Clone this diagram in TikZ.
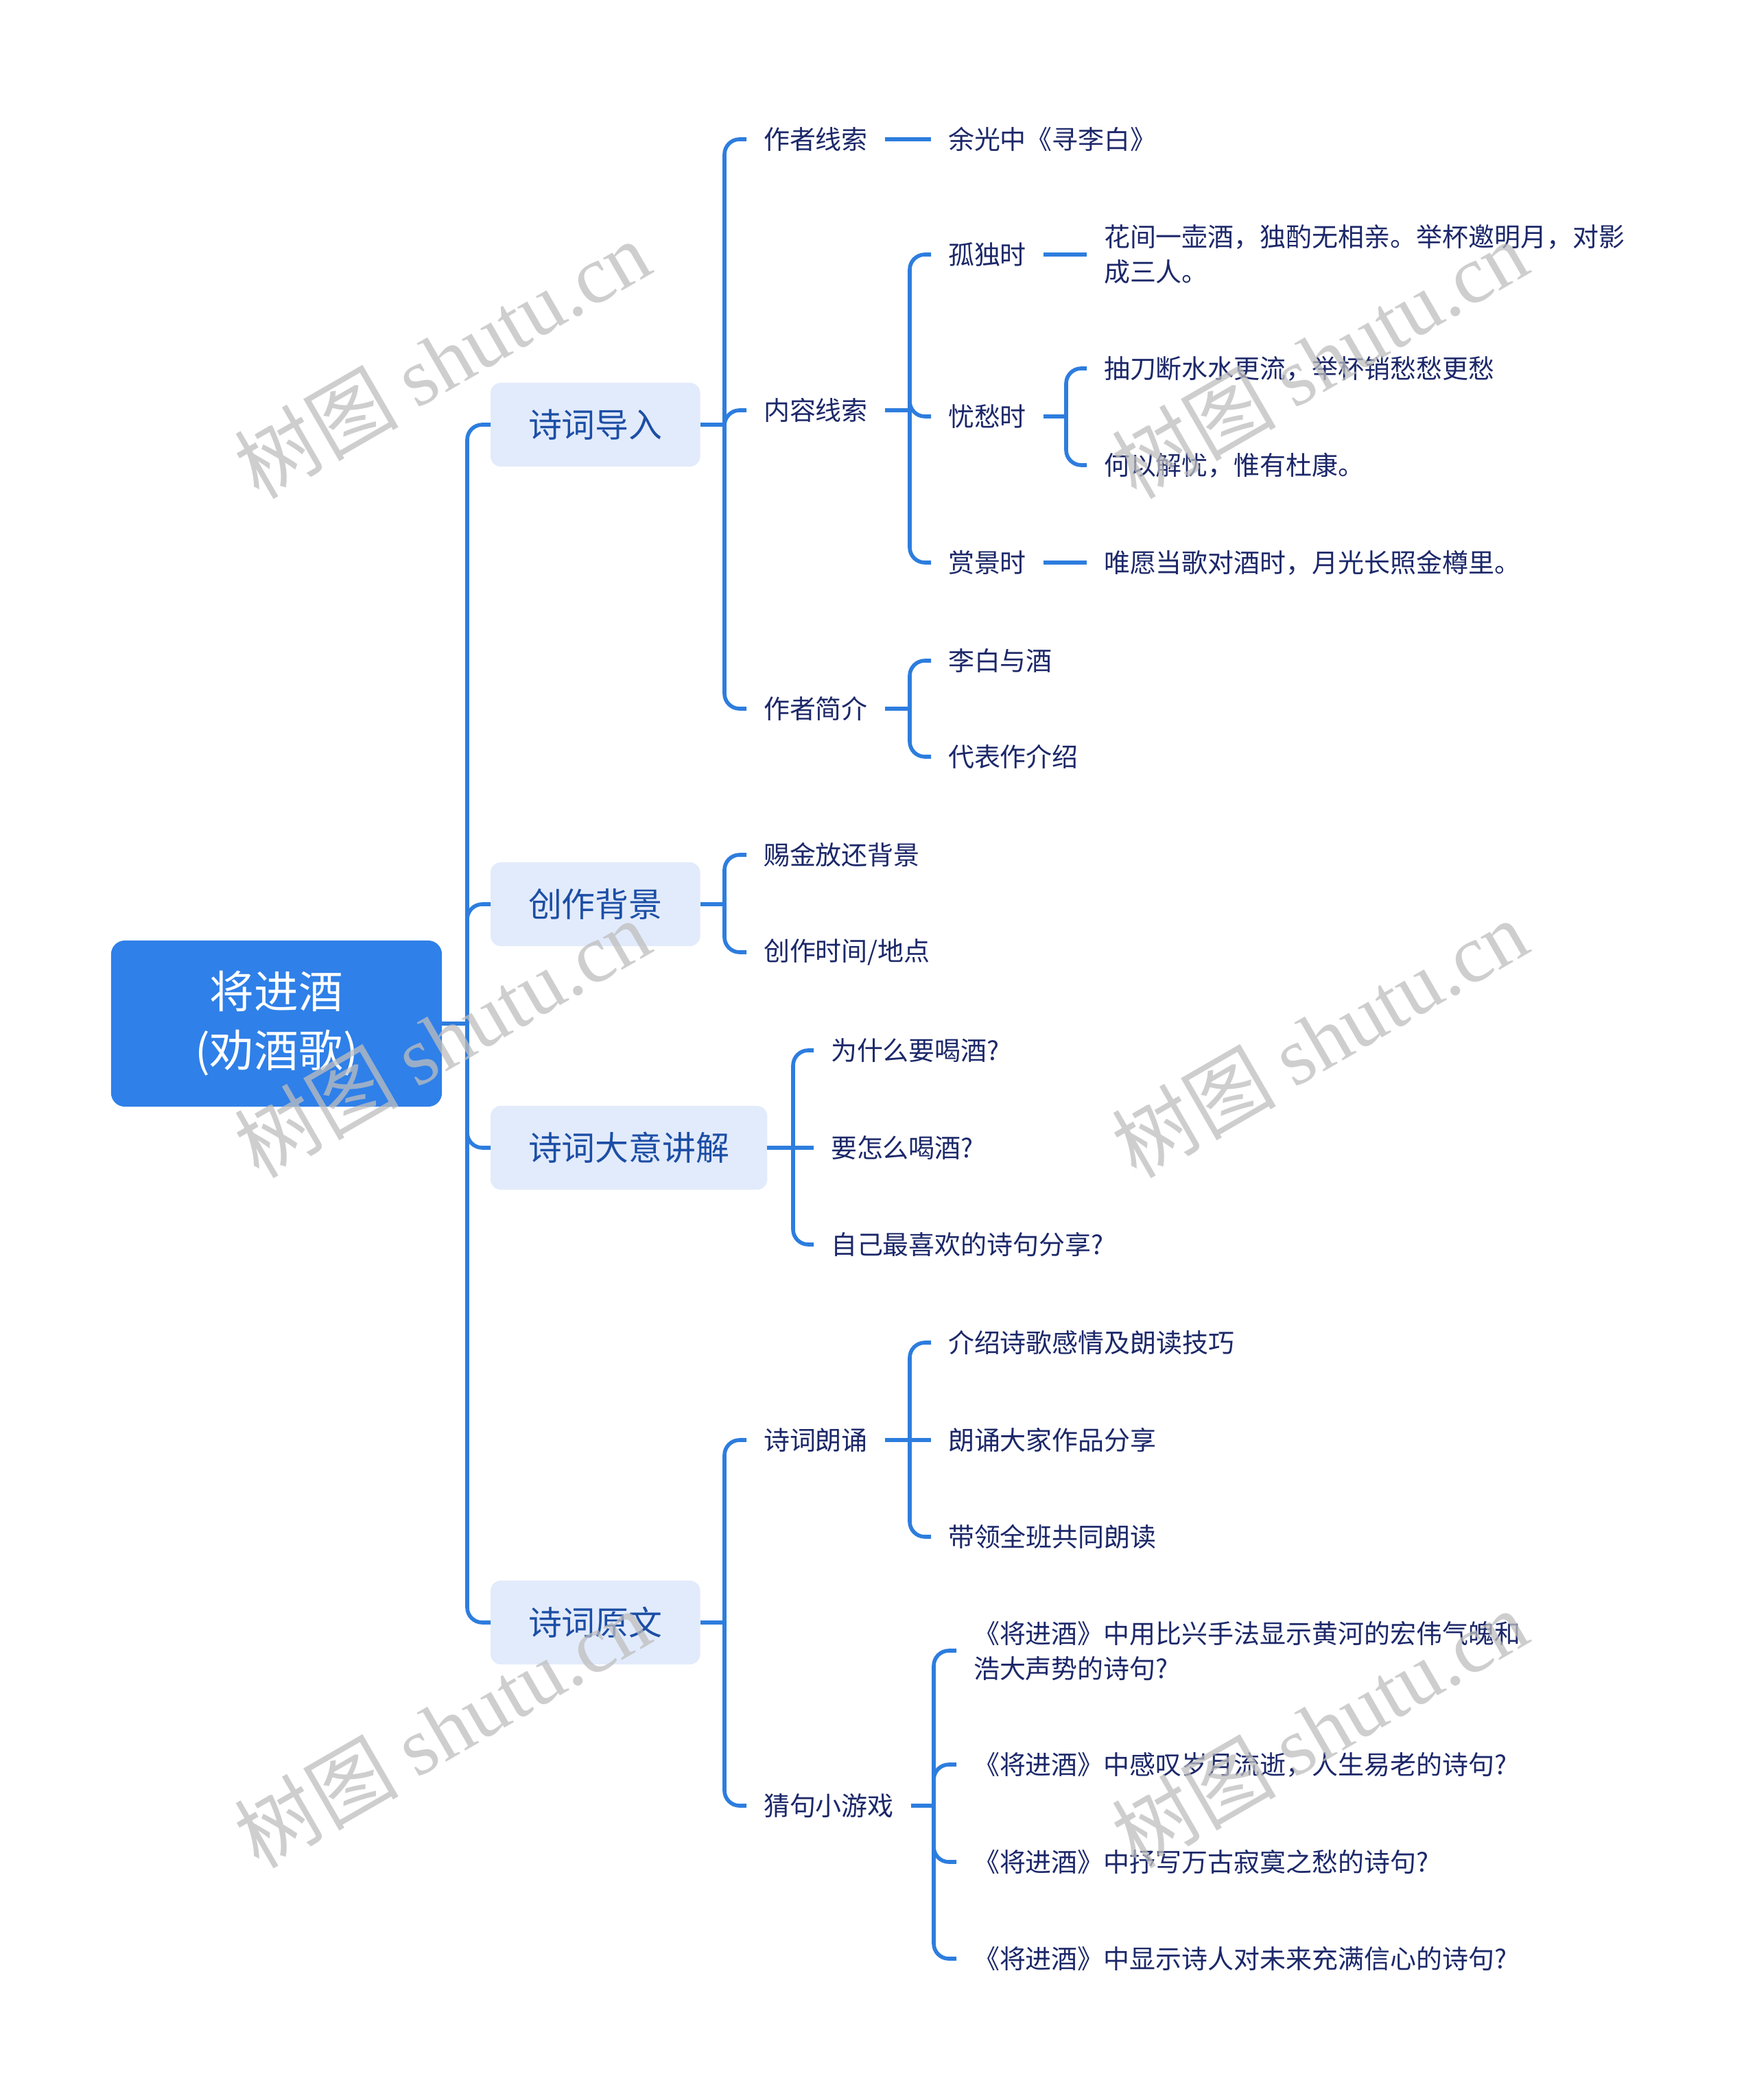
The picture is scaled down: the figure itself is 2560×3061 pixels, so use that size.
\documentclass[tikz,border=0pt]{standalone}
\usepackage{fontspec}
\setmainfont{Noto Sans CJK SC}
\newfontfamily\wmlatin{Liberation Serif}
\definecolor{connc}{RGB}{45,125,222}
\definecolor{rootc}{RGB}{47,128,232}
\definecolor{lvtwofill}{RGB}{226,235,251}
\definecolor{lvtwotext}{RGB}{28,78,165}
\definecolor{leafc}{RGB}{28,40,105}
\definecolor{wmc}{RGB}{190,190,190}
\tikzset{
  conn/.style={draw=connc, line width=1.6pt},
  rootbox/.style={fill=rootc, rounded corners=0.2cm, minimum width=4.82cm, minimum height=2.42cm,
    inner sep=0pt, outer sep=0pt, text=white, align=center, font=\fontsize{18.4pt}{24.5pt}\selectfont},
  lvtwo/.style={anchor=west, fill=lvtwofill, rounded corners=0.15cm, inner xsep=0.55cm, inner ysep=0pt,
    minimum height=1.22cm, outer sep=0pt, text=lvtwotext, font=\fontsize{13.9pt}{16pt}\selectfont},
  leaf/.style={anchor=west, inner xsep=0.25cm, inner ysep=0.08cm, outer sep=0pt, text=leafc, align=left,
    font=\fontsize{10.8pt}{14.5pt}\selectfont},
  wm/.style={text=wmc, text opacity=0.75, rotate=30, font=\fontsize{34pt}{34pt}\selectfont, inner sep=0pt}
}
\newcommand\brch[3]{%
  \draw[conn] (#1.east) -- (#1.east -| #2);
  \draw[conn, rounded corners=0.22cm] (#1.east -| #2) -- (#3.west -| #2) -- (#3.west);}
\newcommand\sgl[2]{\draw[conn] (#1.east) -- (#2.west);}
\begin{document}
\begin{tikzpicture}[x=0.01cm, y=-0.01cm]
\useasboundingbox (0,0) rectangle (2560,3061);
% trunk x positions
\coordinate (T1) at (681,0);
\coordinate (TA) at (1056,0);
\coordinate (TC) at (1156,0);
\coordinate (TB) at (1326,0);
\coordinate (TD) at (1361,0);
\coordinate (TE) at (1554,0);
% nodes
\node[rootbox] (root) at (403,1492) {将进酒\\(劝酒歌)};
\node[lvtwo] (a) at (715,619) {诗词导入};
\node[lvtwo] (b) at (715,1318) {创作背景};
\node[lvtwo] (c) at (715,1673) {诗词大意讲解};
\node[lvtwo] (d) at (715,2365) {诗词原文};

\node[leaf] (a1) at (1088,203) {作者线索};
\node[leaf] (a2) at (1088,598) {内容线索};
\node[leaf] (a3) at (1088,1033) {作者简介};
\node[leaf] (b1) at (1088,1246) {赐金放还背景};
\node[leaf] (b2) at (1088,1388) {创作时间/地点};
\node[leaf] (c1) at (1186,1531) {为什么要喝酒?};
\node[leaf] (c2) at (1186,1673) {要怎么喝酒?};
\node[leaf] (c3) at (1186,1814) {自己最喜欢的诗句分享?};
\node[leaf] (d1) at (1088,2099) {诗词朗诵};
\node[leaf] (d2) at (1088,2632) {猜句小游戏};

\node[leaf] (a11) at (1357,203) {余光中《寻李白》};
\node[leaf] (a21) at (1357,371) {孤独时};
\node[leaf] (a22) at (1357,607) {忧愁时};
\node[leaf] (a23) at (1357,820) {赏景时};
\node[leaf] (a31) at (1357,963) {李白与酒};
\node[leaf] (a32) at (1357,1103) {代表作介绍};
\node[leaf] (d11) at (1357,1957) {介绍诗歌感情及朗读技巧};
\node[leaf] (d12) at (1357,2099) {朗诵大家作品分享};
\node[leaf] (d13) at (1357,2240) {带领全班共同朗读};
\node[leaf] (d21) at (1394,2406) {《将进酒》中用比兴手法显示黄河的宏伟气魄和\\浩大声势的诗句?};
\node[leaf] (d22) at (1394,2572) {《将进酒》中感叹岁月流逝，人生易老的诗句?};
\node[leaf] (d23) at (1394,2714) {《将进酒》中抒写万古寂寞之愁的诗句?};
\node[leaf] (d24) at (1394,2855) {《将进酒》中显示诗人对未来充满信心的诗句?};

\node[leaf] (a211) at (1584,371) {花间一壶酒，独酌无相亲。举杯邀明月，对影\\成三人。};
\node[leaf] (a221) at (1584,537) {抽刀断水水更流，举杯销愁愁更愁};
\node[leaf] (a222) at (1584,678) {何以解忧，惟有杜康。};
\node[leaf] (a231) at (1584,820) {唯愿当歌对酒时，月光长照金樽里。};

% connectors
\brch{root}{T1}{a}
\brch{root}{T1}{b}
\brch{root}{T1}{c}
\brch{root}{T1}{d}

\brch{a}{TA}{a1}
\brch{a}{TA}{a2}
\brch{a}{TA}{a3}
\brch{b}{TA}{b1}
\brch{b}{TA}{b2}
\brch{c}{TC}{c1}
\sgl{c}{c2}
\brch{c}{TC}{c3}
\brch{d}{TA}{d1}
\brch{d}{TA}{d2}

\sgl{a1}{a11}
\brch{a2}{TB}{a21}
\brch{a2}{TB}{a22}
\brch{a2}{TB}{a23}
\brch{a3}{TB}{a31}
\brch{a3}{TB}{a32}
\brch{d1}{TB}{d11}
\sgl{d1}{d12}
\brch{d1}{TB}{d13}
\brch{d2}{TD}{d21}
\brch{d2}{TD}{d22}
\brch{d2}{TD}{d23}
\brch{d2}{TD}{d24}

\sgl{a21}{a211}
\brch{a22}{TE}{a221}
\brch{a22}{TE}{a222}
\sgl{a23}{a231}

% watermarks
\node[wm] (w1) at (644,523) {树图 {\wmlatin shutu.cn}};
\node[wm] (w2) at (1923,523) {树图 {\wmlatin shutu.cn}};
\node[wm] (w3) at (644,1513) {树图 {\wmlatin shutu.cn}};
\node[wm] (w4) at (1923,1513) {树图 {\wmlatin shutu.cn}};
\node[wm] (w5) at (644,2519) {树图 {\wmlatin shutu.cn}};
\node[wm] (w6) at (1923,2519) {树图 {\wmlatin shutu.cn}};
\end{tikzpicture}
\end{document}
